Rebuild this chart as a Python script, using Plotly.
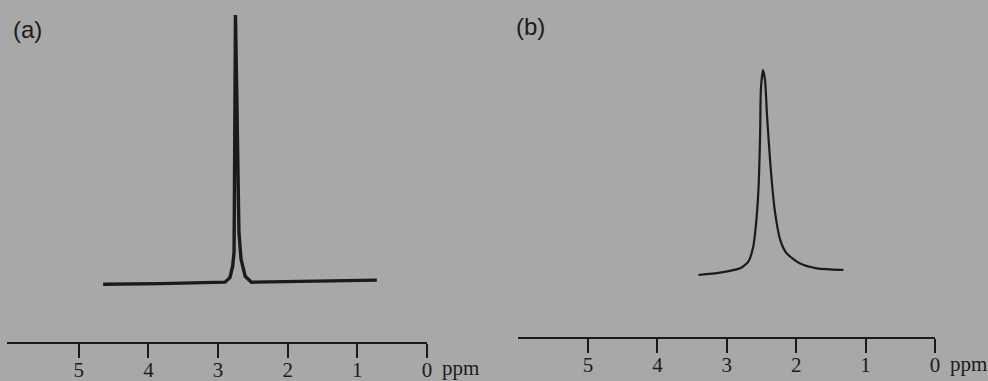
import plotly.graph_objects as go

# ---- data ----
tick_vals = [5, 4, 3, 2, 1, 0]
tick_text = ["5", "4", "3", "2", "1", "0"]

# spectrum (a): chemical shift (ppm) and relative intensity
ppm_a = [4.65, 3.83, 2.90, 2.83, 2.79, 2.77, 2.765, 2.75, 2.73, 2.71, 2.70,
         2.67, 2.61, 2.52, 1.82, 0.72]
int_a = [-0.75, -0.56, 0.0, 1.7, 6.0, 11.2, 31.0, 100.0, 68.3, 31.0, 18.7,
         8.6, 2.2, 0.0, 0.2, 0.75]

# spectrum (b)
ppm_b = [3.41, 3.10, 2.81, 2.69, 2.62, 2.57, 2.54, 2.52, 2.51, 2.48, 2.45,
         2.42, 2.37, 2.31, 2.23, 2.14, 1.95, 1.70, 1.32]
int_b = [-1.5, -0.35, 1.8, 5.1, 12.5, 27.4, 44.1, 68.8, 90.1, 100.0, 95.0,
         76.9, 52.1, 30.7, 15.8, 9.3, 4.3, 1.8, 1.0]

W, H = 988, 381
BG = "#a8a8a8"
INK = "#1c1a1e"

fig = go.Figure()
fig.add_trace(go.Scatter(x=ppm_a, y=int_a, mode="lines", xaxis="x", yaxis="y",
                         line=dict(color=INK, width=3.4, shape="linear"),
                         showlegend=False, hoverinfo="skip"))
fig.add_trace(go.Scatter(x=ppm_b, y=int_b, mode="lines", xaxis="x2", yaxis="y2",
                         line=dict(color=INK, width=2.2, shape="spline", smoothing=0.6),
                         showlegend=False, hoverinfo="skip"))

tickfont = dict(family="Liberation Serif, Times New Roman, serif", size=21, color=INK)
common_x = dict(tickmode="array", tickvals=tick_vals, ticktext=tick_text,
                ticks="outside", ticklen=14, tickwidth=1.6, tickcolor=INK,
                showline=True, linecolor=INK, linewidth=2, showgrid=False,
                zeroline=False, tickfont=tickfont, fixedrange=True, automargin=False,
                ticklabelstandoff=-6)
common_y = dict(visible=False, showgrid=False, zeroline=False, fixedrange=True)
labfont = dict(family="Liberation Sans, Arial, sans-serif", size=24, color=INK)

fig.update_layout(
    width=W, height=H,
    margin=dict(l=0, r=0, t=0, b=0, pad=0),
    paper_bgcolor=BG, plot_bgcolor=BG,
    xaxis=dict(domain=[7 / W, 427 / W], range=[6.03, 0], anchor="y", **common_x),
    yaxis=dict(domain=[(H - 342) / H, 1], range=[-22.39, 105.6], anchor="x", **common_y),
    xaxis2=dict(domain=[518 / W, 935 / W], range=[6.01, 0], anchor="y2", **common_x),
    yaxis2=dict(domain=[(H - 337) / H, 1], range=[-32.2, 134.65], anchor="x2", **common_y),
    annotations=[
        dict(text="ppm", xref="x domain", yref="paper", x=1, y=(H - 368) / H,
             xanchor="left", yanchor="middle", xshift=13, showarrow=False,
             font=tickfont),
        dict(text="ppm", xref="x2 domain", yref="paper", x=1, y=(H - 364) / H,
             xanchor="left", yanchor="middle", xshift=13, showarrow=False,
             font=tickfont),
        dict(text="(a)", xref="paper", yref="paper", x=11 / W, y=(H - 29) / H,
             xanchor="left", yanchor="middle", showarrow=False, font=labfont),
        dict(text="(b)", xref="paper", yref="paper", x=514 / W, y=(H - 27) / H,
             xanchor="left", yanchor="middle", showarrow=False, font=labfont),
    ],
)

post = (
    "var gd=document.getElementById('{plot_id}');"
    "document.documentElement.style.margin='0';"
    "document.documentElement.style.padding='0';"
    "document.documentElement.style.overflow='hidden';"
    "document.body.style.margin='0';"
    "document.body.style.padding='0';"
    "document.body.style.overflow='hidden';"
    "if(gd&&gd.parentElement){gd.parentElement.style.lineHeight='0';"
    "gd.parentElement.style.height='381px';gd.parentElement.style.overflow='hidden';}"
    "if(gd){gd.style.display='block';}"
)
fig.write_html("out.html", config={"displayModeBar": False}, post_script=post)
